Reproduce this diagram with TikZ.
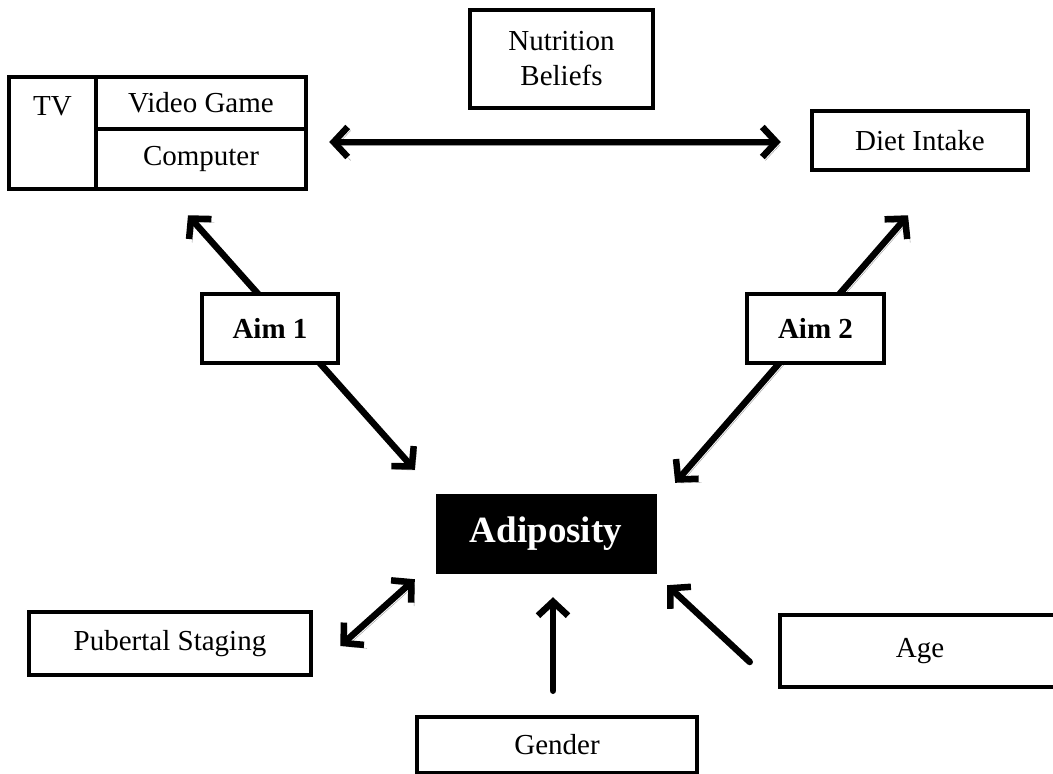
\documentclass[tikz,border=0pt]{standalone}
\usepackage{fontspec}
\setmainfont{Liberation Serif}
\usetikzlibrary{
    arrows.meta,
    positioning,
    calc
}

\begin{document}
\begin{tikzpicture}[x=1pt, y=-1pt,
    box/.style={draw, line width=4.5pt, fill=white, inner sep=0pt, font=\fontsize{29}{35}\selectfont},
    link/.style={line width=6.5pt, line cap=round, line join=round},
    shadowed/.style={preaction={draw=black!40, transform canvas={shift={(3pt,-3.5pt)}}}},
    tip/.style={-{Straight Barb[length=14pt, width=30pt]}},
    bitip/.style={{Straight Barb[length=14pt, width=30pt]}-{Straight Barb[length=14pt, width=30pt]}}
]
                \clip (0, 0) rectangle (1053, 774);

                % Media block
                \node[box, minimum width=297pt, minimum height=112pt] (media) at (157.5, 133) {};
                \node[box, minimum width=87pt, minimum height=112pt] (tv) at (52.5, 133) {};
                \node[font=\fontsize{29}{35}\selectfont] (tvtext) at (52.5, 106) {TV};
                \node[box, minimum width=210pt, minimum height=52pt] (game) at (201, 103) {Video Game};
                \node[box, minimum width=210pt, minimum height=60pt] (comp) at (201, 159) {Computer};

                % Nutrition beliefs and diet
                \node[box, align=center, minimum width=183pt, minimum height=98pt] (nutr) at (561.5, 59) {Nutrition\\Beliefs};
                \node[box, minimum width=216pt, minimum height=59pt] (diet) at (920, 140.5) {Diet Intake};

                % Adiposity
                \node[draw, fill=black, text=white, inner sep=0pt, minimum width=220pt, minimum height=79pt,
                      font=\fontsize{37}{44}\selectfont\bfseries] (adip) at (546, 533.5) {Adiposity};

                % Covariates
                \node[box, minimum width=282pt, minimum height=63pt] (pub) at (170, 643.5) {Pubertal Staging};
                \node[box, minimum width=280pt, minimum height=56pt] (gender) at (557, 745) {Gender};
                \node[box, minimum width=280pt, minimum height=72pt] (age) at (920, 651) {Age};

                % Arrows
                \draw[link, bitip, shadowed] ([shift={(21, 9)}]media.east) -- ([shift={(-29, 1.5)}]diet.west);
                \draw[link, bitip, shadowed] ([shift={(30.5, 24)}]media.south) -- ([shift={(-21, -24)}]adip.north west);
                \draw[link, bitip, shadowed] ([shift={(-12, 43)}]diet.south) -- ([shift={(19, -11)}]adip.north east);
                \draw[link, bitip, shadowed] ([shift={(27, 2.5)}]pub.east) -- ([shift={(-21, 6)}]adip.south west);
                \draw[link, tip] ([shift={(-4, -24)}]gender.north) -- ([shift={(7, 24)}]adip.south);
                \draw[link, tip] ([shift={(-28, 11)}]age.west) -- ([shift={(11, 12)}]adip.south east);

                % Aims
                \node[box, font=\fontsize{29}{35}\selectfont\bfseries, minimum width=136pt, minimum height=69pt] (aim1) at (270, 328.5) {Aim 1};
                \node[box, font=\fontsize{29}{35}\selectfont\bfseries, minimum width=137pt, minimum height=69pt] (aim2) at (815.5, 328.5) {Aim 2};
            \end{tikzpicture}
\end{document}
